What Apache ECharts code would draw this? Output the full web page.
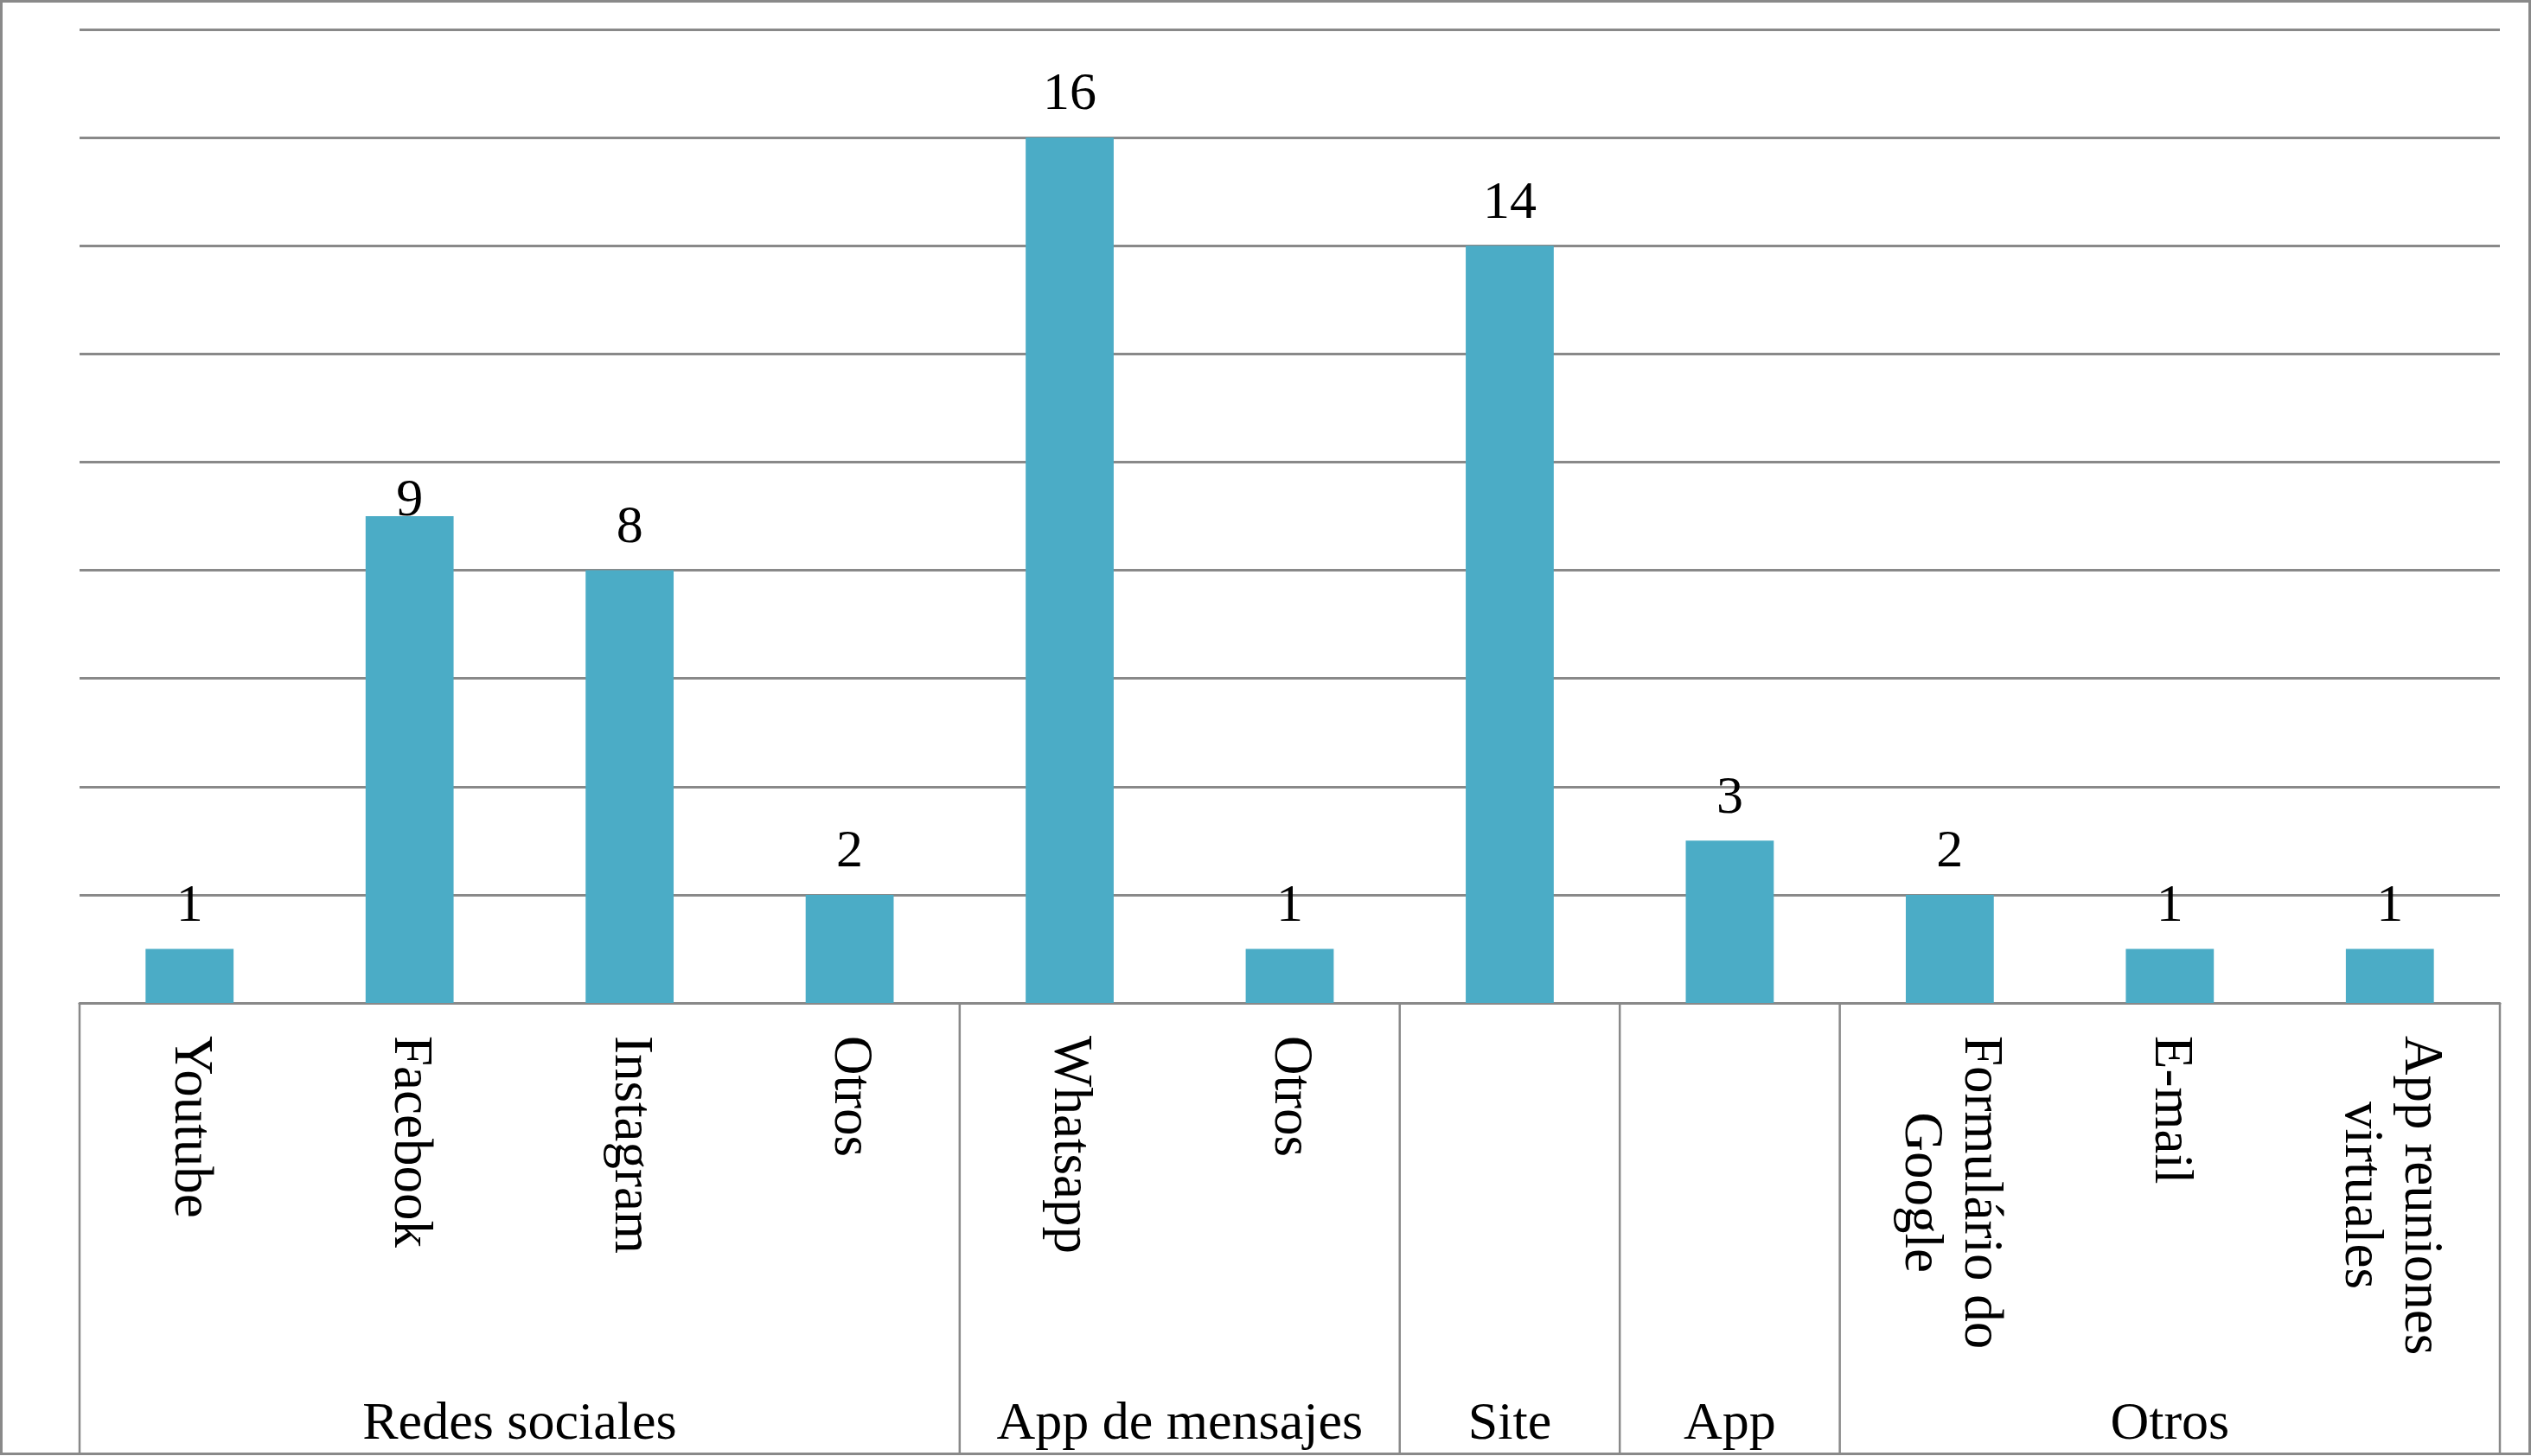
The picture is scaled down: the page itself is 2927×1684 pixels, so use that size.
<!DOCTYPE html>
<html>
<head>
<meta charset="utf-8">
<script src="https://cdn.jsdelivr.net/npm/echarts@6/dist/echarts.min.js"></script>
<style>
html,body{margin:0;padding:0;background:#fff;}
#chart{width:2927px;height:1684px;}
</style>
</head>
<body>
<div id="chart"></div>
<script>
// ---- data ----
const categories = ['Youtube', 'Facebook', 'Instagram', 'Otros', 'Whatsapp', 'Otros', '', '', 'Formulário do\nGoogle', 'E-mail', 'App reuniones\nvirtuales'];
const values = [1, 9, 8, 2, 16, 1, 14, 3, 2, 1, 1];
const groups = ['Redes sociales', 'App de mensajes', 'Site', 'App', 'Otros'];
const groupSizes = [4, 2, 1, 1, 3];
const yTicks = [0, 2, 4, 6, 8, 10, 12, 14, 16, 18];

// ---- styles ----
const GRAY = '#898989';
const BAR = '#4BACC6';
const FONT = '"Liberation Serif", "Times New Roman", serif';

const chart = echarts.init(document.getElementById('chart'), null, {renderer: 'canvas'});

// group index ranges
const groupData = [];
let start = 0;
groupSizes.forEach((n, g) => {
  groupData.push([start, start + n - 1, 0]);
  start += n;
});

const mctx = document.createElement('canvas').getContext('2d');
mctx.font = '63px ' + FONT;
function maxLineWidth(t) {
  return Math.max(0, ...t.split('\n').map(l => mctx.measureText(l).width));
}

const barData = values.map((v, i) => {
  if (i === 1) return {value: v, label: {distance: -14}};
  return v;
});

const option = {
  backgroundColor: '#fff',
  animation: false,
  grid: {left: 92, right: 36, top: 34, bottom: 524, containLabel: false},
  xAxis: {
    type: 'category',
    data: categories,
    axisLine: {show: true, lineStyle: {color: GRAY, width: 3}},
    axisTick: {show: false},
    axisLabel: {show: false},
    splitLine: {show: false}
  },
  yAxis: {
    type: 'value',
    min: yTicks[0],
    max: yTicks[yTicks.length - 1],
    interval: yTicks[1] - yTicks[0],
    axisLine: {show: false},
    axisTick: {show: false},
    axisLabel: {show: false},
    splitLine: {show: true, lineStyle: {color: GRAY, width: 3}}
  },
  graphic: [{
    type: 'rect',
    shape: {x: 1.5, y: 1.5, width: 2924, height: 1680},
    style: {fill: null, stroke: GRAY, lineWidth: 3},
    silent: true,
    z: 100
  }],
  series: [
    {
      type: 'bar',
      data: barData,
      barWidth: '40%',
      itemStyle: {color: BAR},
      label: {
        show: true,
        position: 'top',
        distance: 18,
        color: '#000',
        fontFamily: FONT,
        fontSize: 62
      }
    },
    {
      // rotated category labels
      type: 'custom',
      silent: true,
      clip: false,
      data: categories.map((c, i) => [i, 0]),
      encode: {x: 0, y: 1},
      renderItem: function (params, api) {
        const txt = categories[params.dataIndex];
        if (!txt) return null;
        const p = api.coord([api.value(0), 0]);
        const w = maxLineWidth(txt);
        return {
          type: 'text',
          x: p[0],
          y: p[1] + 38 + w / 2,
          rotation: -Math.PI / 2,
          style: {
            text: txt,
            font: '63px ' + FONT,
            fill: '#000',
            align: 'center',
            verticalAlign: 'middle',
            lineHeight: 69
          }
        };
      },
      z: 10
    },
    {
      // group boxes and labels
      type: 'custom',
      silent: true,
      clip: false,
      data: groupData,
      encode: {x: [0, 1], y: 2},
      renderItem: function (params, api) {
        const s = api.value(0), e = api.value(1);
        const band = api.size([1, 0])[0];
        const p0 = api.coord([s, 0]);
        const p1 = api.coord([e, 0]);
        const left = p0[0] - band / 2;
        const right = p1[0] + band / 2;
        const y0 = p0[1];
        const children = [
          {type: 'line', shape: {x1: left, y1: y0, x2: left, y2: y0 + 521},
           style: {stroke: GRAY, lineWidth: 2.5}},
          {type: 'text', x: (left + right) / 2, y: y0 + 488,
           style: {text: groups[params.dataIndex], font: '62px ' + FONT, fill: '#000',
                   align: 'center', verticalAlign: 'middle'}}
        ];
        if (params.dataIndex === groupData.length - 1) {
          children.push({type: 'line', shape: {x1: right, y1: y0, x2: right, y2: y0 + 521},
                         style: {stroke: GRAY, lineWidth: 2.5}});
        }
        return {type: 'group', children: children};
      },
      z: 10
    }
  ]
};
chart.setOption(option);
</script>
</body>
</html>
